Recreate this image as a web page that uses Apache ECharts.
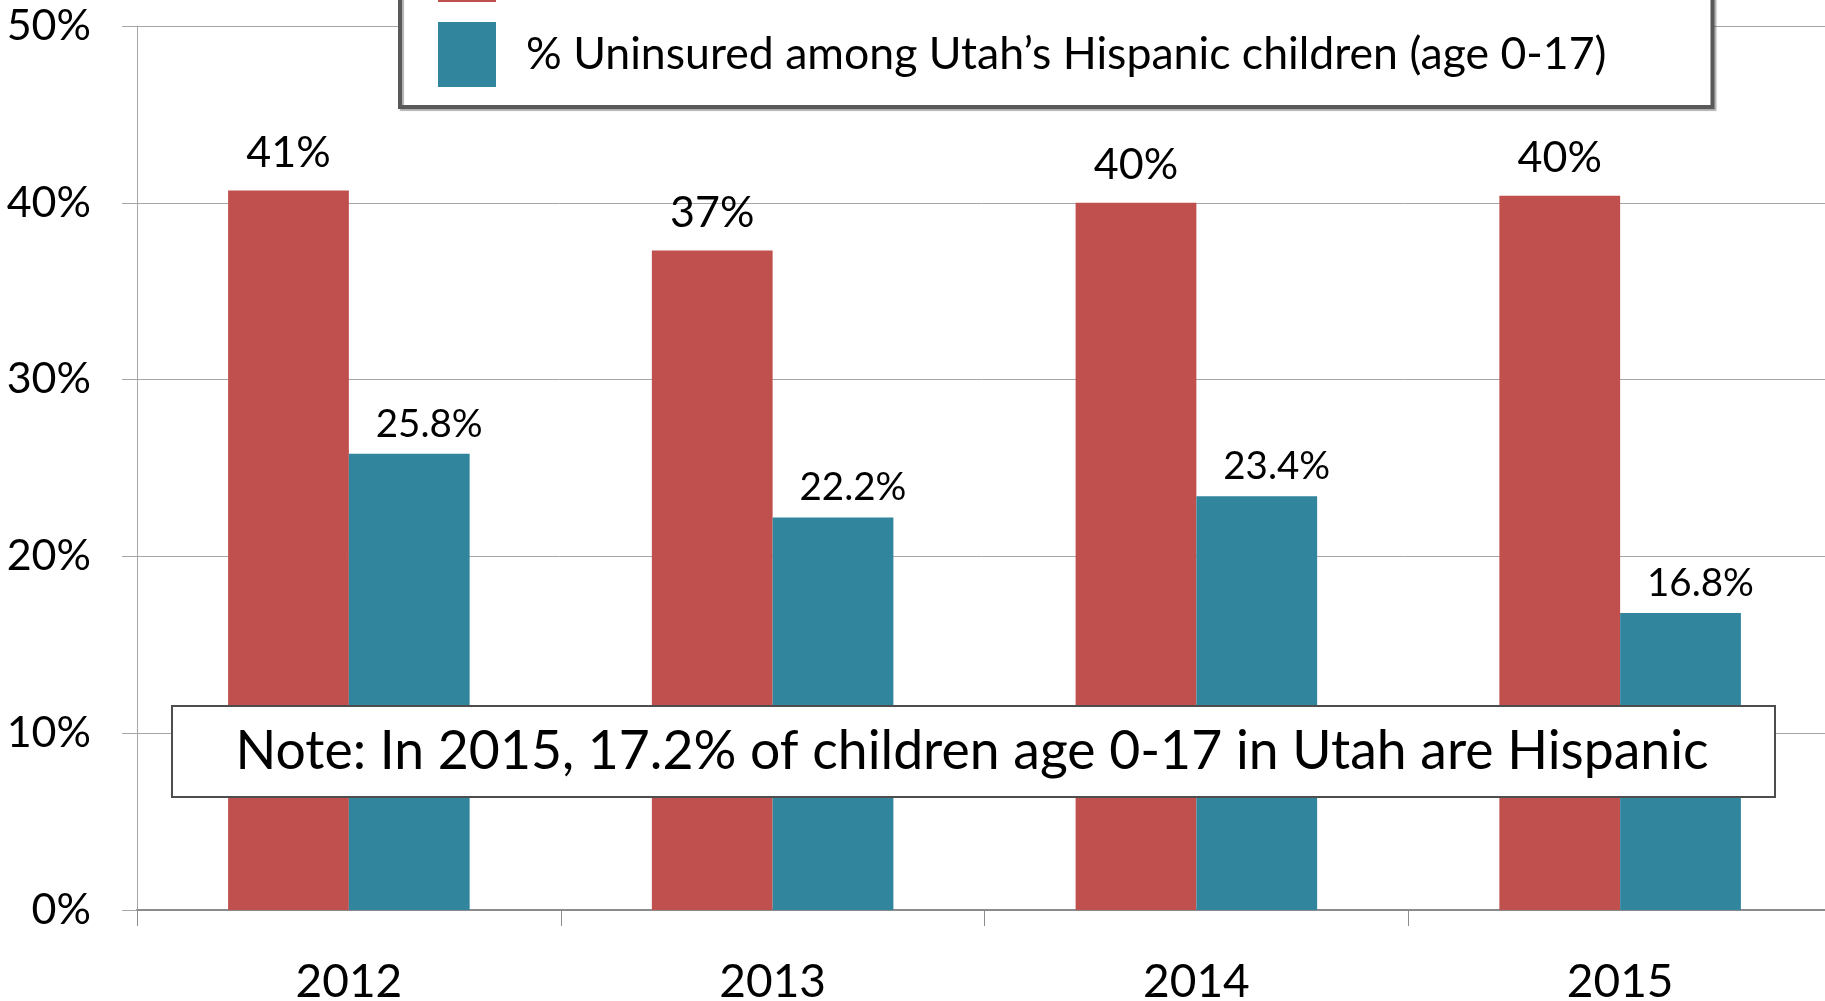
<!DOCTYPE html>
<html>
<head>
<meta charset="utf-8">
<script src="https://cdn.jsdelivr.net/npm/echarts@6/dist/echarts.min.js"></script>
<style>
  html, body { margin: 0; padding: 0; background: #fff; }
  #main { width: 1825px; height: 1001px; }
</style>
</head>
<body>
<div id="main"></div>
<script>
// data
var years = ['2012', '2013', '2014', '2015'];
var adultNames = '% Uninsured among Utah\u2019s Hispanic adults (age 18-64)';
var childNames = '% Uninsured among Utah\u2019s Hispanic children (age 0-17)';
var adultUninsured = [40.7, 37.3, 40.0, 40.4];
var childUninsured = [25.8, 22.2, 23.4, 16.8];
var yTicks = [0, 10, 20, 30, 40, 50];
var noteText = 'Note: In 2015, 17.2% of children age 0-17 in Utah are Hispanic';

var FONT = 'Lato';

var dom = document.getElementById('main');
var myChart = echarts.init(dom);

var option = {
    animation: false,
    textStyle: { fontFamily: FONT },
    grid: {
        left: 137,
        right: -7,
        top: 26,
        bottom: 91,
        outerBoundsMode: 'none'
    },
    legend: {
        orient: 'vertical',
        left: 400,
        top: -83,
        padding: [20, 106, 20, 38],
        itemGap: 20,
        itemWidth: 58,
        itemHeight: 65,
        icon: 'rect',
        backgroundColor: '#fff',
        borderColor: '#595959',
        borderWidth: 4,
        shadowColor: 'rgba(0,0,0,0.3)',
        shadowBlur: 1,
        shadowOffsetX: 2,
        shadowOffsetY: 2,
        selectedMode: false,
        textStyle: {
            fontFamily: FONT,
            fontSize: 44.6,
            color: '#000',
            padding: [8, 0, 0, 25]
        },
        data: [adultNames, childNames]
    },
    xAxis: {
        type: 'category',
        data: years,
        axisLine: { lineStyle: { color: '#8C8C8C', width: 2 } },
        axisTick: { show: true, length: 16, lineStyle: { color: '#8C8C8C', width: 1 } },
        axisLabel: { fontFamily: FONT, fontSize: 46, color: '#000', margin: 49 }
    },
    yAxis: {
        type: 'value',
        min: 0,
        max: 50,
        interval: 10,
        axisLine: { show: true, lineStyle: { color: '#A6A6A6', width: 1 } },
        axisTick: { show: true, length: 15, lineStyle: { color: '#A6A6A6' } },
        splitLine: { lineStyle: { color: '#A6A6A6', width: 1 } },
        axisLabel: {
            fontFamily: FONT,
            fontSize: 43,
            color: '#000',
            margin: 46,
            formatter: function (v) { return yTicks.indexOf(v) >= 0 ? v + '%' : ''; }
        }
    },
    series: [{
        name: adultNames,
        type: 'bar',
        data: adultUninsured,
        barGap: 0,
        barCategoryGap: '43%',
        itemStyle: { color: '#C0504D' },
        label: {
            show: true,
            position: 'top',
            distance: 16,
            fontFamily: FONT,
            fontSize: 43,
            color: '#000',
            formatter: function (p) { return Math.round(p.value) + '%'; }
        }
    }, {
        name: childNames,
        type: 'bar',
        data: childUninsured,
        barGap: 0,
        barCategoryGap: '43%',
        itemStyle: { color: '#31859C' },
        label: {
            show: true,
            position: 'top',
            distance: 10,
            offset: [20, 0],
            fontFamily: FONT,
            fontSize: 38.5,
            color: '#000',
            formatter: function (p) { return p.value.toFixed(1) + '%'; }
        }
    }],
    graphic: [{
        type: 'rect',
        left: 171,
        top: 705,
        z: 100,
        shape: { width: 1603, height: 91 },
        style: { fill: '#fff', stroke: '#4D4D4D', lineWidth: 2 }
    }, {
        type: 'text',
        x: 972,
        y: 752,
        z: 101,
        style: {
            text: noteText,
            fontFamily: FONT,
            fontSize: 53.5,
            fill: '#000',
            align: 'center',
            verticalAlign: 'middle'
        }
    }]
};

myChart.setOption(option, true);
window.onresize = function () {
    myChart.resize();
};
</script>
</body>
</html>
